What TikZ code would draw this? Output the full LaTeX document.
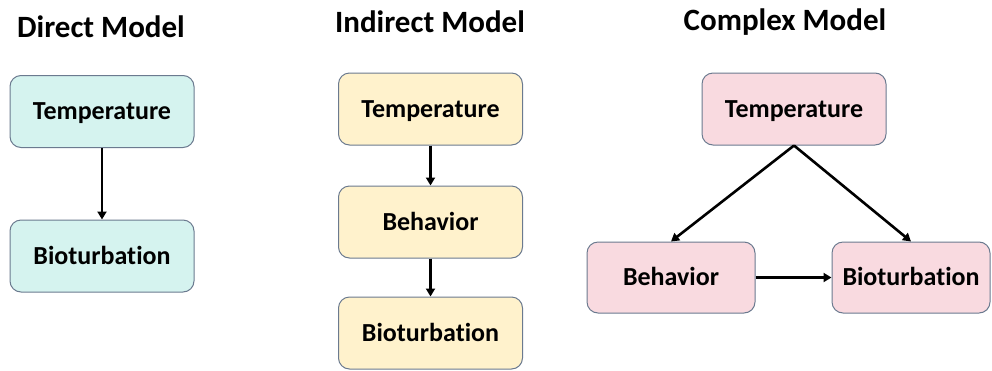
\documentclass[tikz,border=0pt]{standalone}
\usepackage{fontspec}
\setmainfont{Carlito}[Ligatures={NoCommon,NoContextual}]
\usetikzlibrary{arrows.meta}
\definecolor{tealfill}{HTML}{D5F3EF}
\definecolor{yellowfill}{HTML}{FFF2CC}
\definecolor{pinkfill}{HTML}{F9DAE0}
\definecolor{boxline}{HTML}{6B7A8F}
\tikzset{
  % labels are centred on their capital height
  box/.style={draw=boxline, line width=1pt, rounded corners=11pt, inner sep=0pt,
    text height=16.7pt, text depth=0pt,
    font=\fontsize{26}{30}\selectfont\bfseries, text=black},
  bigbox/.style={box, minimum width=184pt, minimum height=72pt},
  smallbox/.style={box, minimum width=168pt, minimum height=71pt},
  title/.style={font=\fontsize{31}{34}\selectfont\bfseries, text=black},
  link/.style={line width=2.6pt, -{Triangle[length=8pt,width=9pt]}}
}
\begin{document}
\begin{tikzpicture}[x=1pt,y=-1pt]
\useasboundingbox (0,0) rectangle (992,370);
% column 1: direct path
\node[title] (t1) at (101,27) {Direct Model};
\node[bigbox, fill=tealfill] (d1) at (102,111.5) {Temperature};
\node[bigbox, fill=tealfill] (d2) at (102,256) {Bioturbation};
\draw[link] (d1) -- (d2);
% column 2: mediated chain
\node[title] (t2) at (430,22) {Indirect Model};
\node[bigbox, fill=yellowfill] (i1) at (430.5,109) {Temperature};
\node[bigbox, fill=yellowfill] (i2) at (430.5,222) {Behavior};
\node[bigbox, fill=yellowfill] (i3) at (430.5,333) {Bioturbation};
\draw[link] (i1) -- (i2);
\draw[link] (i2) -- (i3);
% column 3: direct plus mediated
\node[title] (t3) at (785,22) {Complex Model};
\node[bigbox, fill=pinkfill] (c1) at (794,109) {Temperature};
\node[smallbox, fill=pinkfill] (c2) at (671,277.5) {Behavior};
\node[smallbox, minimum width=158pt, fill=pinkfill] (c3) at (911,277.5) {Bioturbation};
\draw[link] (c1.south) -- (c2.north);
\draw[link] (c1.south) -- (c3.north);
\draw[link] (c2) -- (c3);
\end{tikzpicture}
\end{document}
